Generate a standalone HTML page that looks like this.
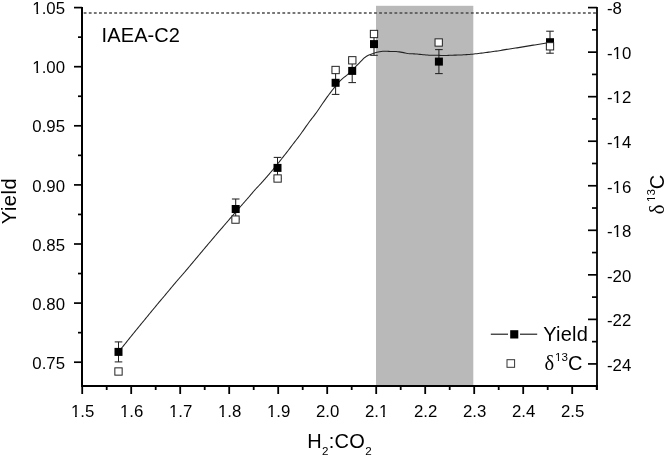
<!DOCTYPE html>
<html><head><meta charset="utf-8"><style>
html,body{margin:0;padding:0;background:#fff;}
svg{display:block;will-change:transform;}
text{font-family:"Liberation Sans",sans-serif;fill:#000;}
.t{font-size:16.8px;}
.L{font-size:20px;}
.s{font-size:11.6px;}
.g{font-family:"Liberation Serif",serif;font-size:20.5px;}
</style></head><body>
<svg width="667" height="457" viewBox="0 0 667 457">
<rect x="376" y="5.8" width="97.3" height="380.20" fill="#b9b9b9"/>
<line x1="83.7" y1="13.1" x2="596" y2="13.1" stroke="#4a4a4a" stroke-width="1.5" stroke-dasharray="2.8 2.294"/>
<path d="M118.50 351.90 L119.45 350.74 L120.40 349.58 L121.35 348.42 L122.30 347.26 L123.25 346.10 L124.20 344.93 L125.14 343.76 L126.07 342.59 L127.00 341.41 L127.93 340.23 L128.86 339.06 L129.79 337.88 L130.73 336.71 L131.68 335.55 L132.63 334.39 L133.58 333.23 L134.53 332.07 L135.48 330.91 L136.43 329.75 L137.39 328.59 L138.34 327.43 L139.29 326.27 L140.24 325.11 L141.19 323.95 L142.14 322.79 L143.09 321.63 L144.04 320.47 L144.99 319.31 L145.94 318.15 L146.89 316.99 L147.85 315.83 L148.80 314.67 L149.75 313.52 L150.71 312.36 L151.66 311.20 L152.62 310.04 L153.57 308.89 L154.53 307.73 L155.48 306.57 L156.44 305.42 L157.39 304.26 L158.35 303.11 L159.31 301.95 L160.27 300.80 L161.24 299.66 L162.22 298.52 L163.20 297.38 L164.16 296.24 L165.13 295.09 L166.09 293.93 L167.04 292.78 L168.00 291.62 L168.96 290.47 L169.92 289.32 L170.88 288.16 L171.84 287.01 L172.80 285.86 L173.77 284.71 L174.73 283.57 L175.71 282.42 L176.68 281.28 L177.66 280.15 L178.64 279.02 L179.63 277.89 L180.62 276.76 L181.61 275.63 L182.59 274.49 L183.57 273.36 L184.55 272.22 L185.52 271.08 L186.49 269.93 L187.46 268.79 L188.42 267.64 L189.39 266.49 L190.35 265.35 L191.32 264.20 L192.28 263.05 L193.25 261.90 L194.21 260.75 L195.17 259.60 L196.14 258.45 L197.10 257.30 L198.07 256.15 L199.03 255.00 L199.99 253.85 L200.96 252.70 L201.92 251.56 L202.89 250.41 L203.85 249.26 L204.82 248.11 L205.78 246.96 L206.75 245.81 L207.72 244.67 L208.68 243.52 L209.65 242.37 L210.62 241.23 L211.58 240.08 L212.55 238.94 L213.52 237.79 L214.49 236.65 L215.46 235.50 L216.43 234.36 L217.40 233.21 L218.37 232.07 L219.35 230.93 L220.34 229.81 L221.34 228.69 L222.32 227.56 L223.30 226.42 L224.27 225.28 L225.25 224.14 L226.22 223.00 L227.20 221.86 L228.18 220.72 L229.16 219.58 L230.13 218.45 L231.11 217.31 L232.09 216.18 L233.08 215.04 L234.06 213.91 L235.04 212.77 L236.03 211.64 L237.01 210.51 L238.00 209.38 L238.99 208.25 L239.97 207.12 L240.96 206.00 L241.96 204.87 L242.95 203.75 L243.94 202.62 L244.93 201.50 L245.92 200.37 L246.91 199.24 L247.90 198.11 L248.88 196.98 L249.85 195.84 L250.82 194.69 L251.79 193.54 L252.75 192.40 L253.73 191.26 L254.71 190.12 L255.72 189.01 L256.74 187.91 L257.78 186.83 L258.81 185.74 L259.83 184.65 L260.86 183.55 L261.87 182.44 L262.87 181.33 L263.87 180.21 L264.86 179.08 L265.85 177.95 L266.83 176.82 L267.82 175.69 L268.79 174.55 L269.77 173.41 L270.74 172.27 L271.71 171.12 L272.67 169.97 L273.62 168.81 L274.58 167.65 L275.52 166.49 L276.47 165.32 L277.41 164.15 L278.34 162.98 L279.28 161.81 L280.21 160.64 L281.14 159.46 L282.07 158.28 L283.00 157.10 L283.93 155.93 L284.85 154.75 L285.78 153.57 L286.70 152.38 L287.62 151.20 L288.54 150.01 L289.45 148.82 L290.36 147.62 L291.26 146.43 L292.17 145.23 L293.08 144.04 L293.99 142.85 L294.91 141.66 L295.83 140.48 L296.75 139.29 L297.67 138.11 L298.57 136.91 L299.47 135.71 L300.36 134.50 L301.24 133.29 L302.11 132.07 L302.97 130.84 L303.84 129.61 L304.70 128.38 L305.55 127.15 L306.41 125.92 L307.28 124.70 L308.15 123.48 L309.03 122.26 L309.92 121.06 L310.83 119.86 L311.74 118.67 L312.67 117.49 L313.59 116.31 L314.50 115.11 L315.40 113.91 L316.28 112.70 L317.16 111.48 L318.02 110.26 L318.88 109.03 L319.72 107.79 L320.56 106.55 L321.40 105.30 L322.24 104.06 L323.08 102.81 L323.93 101.58 L324.78 100.34 L325.65 99.12 L326.52 97.90 L327.40 96.68 L328.29 95.47 L329.18 94.27 L330.08 93.07 L330.99 91.88 L331.91 90.69 L332.83 89.51 L333.76 88.33 L334.69 87.16 L335.64 85.99 L336.60 84.84 L337.57 83.70 L338.56 82.57 L339.57 81.46 L340.61 80.38 L341.68 79.33 L342.79 78.32 L343.97 77.39 L345.17 76.50 L346.34 75.56 L347.49 74.59 L348.61 73.59 L349.71 72.57 L350.78 71.53 L351.84 70.47 L352.90 69.40 L353.95 68.33 L355.01 67.27 L356.07 66.21 L357.13 65.14 L358.19 64.08 L359.24 63.02 L360.30 61.95 L361.34 60.87 L362.38 59.79 L363.42 58.71 L364.53 57.71 L365.74 56.81 L367.01 56.02 L368.34 55.33 L369.71 54.71 L371.10 54.14 L372.51 53.63 L373.93 53.15 L375.36 52.71 L376.81 52.32 L378.27 51.98 L379.74 51.70 L381.23 51.49 L382.72 51.35 L384.22 51.29 L385.72 51.29 L387.22 51.32 L388.72 51.39 L390.22 51.45 L391.72 51.49 L393.22 51.51 L394.72 51.53 L396.22 51.59 L397.71 51.71 L399.20 51.88 L400.68 52.11 L402.16 52.36 L403.64 52.64 L405.11 52.94 L406.57 53.24 L408.05 53.51 L409.54 53.69 L411.04 53.79 L412.53 53.84 L414.03 53.89 L415.53 53.98 L417.03 54.10 L418.52 54.24 L420.01 54.37 L421.51 54.51 L423.00 54.66 L424.49 54.82 L425.98 54.97 L427.48 55.10 L428.98 55.20 L430.47 55.25 L431.97 55.29 L433.47 55.31 L434.97 55.31 L436.47 55.31 L437.97 55.33 L439.47 55.36 L440.97 55.44 L442.47 55.50 L443.97 55.52 L445.47 55.49 L446.97 55.44 L448.47 55.38 L449.97 55.31 L451.46 55.24 L452.96 55.18 L454.46 55.13 L455.96 55.11 L457.46 55.10 L458.96 55.07 L460.46 55.01 L461.96 54.93 L463.45 54.83 L464.95 54.73 L466.45 54.62 L467.94 54.52 L469.44 54.40 L470.93 54.28 L472.43 54.15 L473.92 54.00 L475.41 53.84 L476.90 53.67 L478.39 53.50 L479.88 53.32 L481.37 53.14 L482.86 52.96 L484.35 52.77 L485.84 52.57 L487.32 52.36 L488.80 52.14 L490.29 51.93 L491.78 51.73 L493.26 51.53 L494.75 51.33 L496.23 51.12 L497.72 50.90 L499.20 50.67 L500.68 50.41 L502.15 50.13 L503.63 49.86 L505.11 49.61 L506.59 49.38 L508.07 49.15 L509.56 48.94 L511.04 48.73 L512.53 48.52 L514.01 48.31 L515.50 48.10 L516.98 47.87 L518.46 47.63 L519.94 47.38 L521.42 47.13 L522.90 46.87 L524.37 46.61 L525.85 46.36 L527.33 46.11 L528.81 45.86 L530.29 45.62 L531.77 45.38 L533.25 45.14 L534.73 44.91 L536.22 44.68 L537.70 44.45 L539.18 44.22 L540.66 43.98 L542.14 43.73 L543.62 43.47 L545.09 43.21 L546.57 42.94 L548.04 42.66 L549.52 42.39 L550.00 42.30" fill="none" stroke="#222" stroke-width="1.05" stroke-linejoin="round"/>
<line x1="118.5" y1="341.9" x2="118.5" y2="361.9" stroke="#222" stroke-width="1.05"/>
<line x1="114.7" y1="341.9" x2="122.3" y2="341.9" stroke="#222" stroke-width="1.05"/>
<line x1="114.7" y1="361.9" x2="122.3" y2="361.9" stroke="#222" stroke-width="1.05"/>
<line x1="235.7" y1="199" x2="235.7" y2="219" stroke="#222" stroke-width="1.05"/>
<line x1="231.89999999999998" y1="199" x2="239.5" y2="199" stroke="#222" stroke-width="1.05"/>
<line x1="231.89999999999998" y1="219" x2="239.5" y2="219" stroke="#222" stroke-width="1.05"/>
<line x1="277.5" y1="157.4" x2="277.5" y2="178.4" stroke="#222" stroke-width="1.05"/>
<line x1="273.7" y1="157.4" x2="281.3" y2="157.4" stroke="#222" stroke-width="1.05"/>
<line x1="273.7" y1="178.4" x2="281.3" y2="178.4" stroke="#222" stroke-width="1.05"/>
<line x1="335.6" y1="71.2" x2="335.6" y2="94.39999999999999" stroke="#222" stroke-width="1.05"/>
<line x1="331.8" y1="71.2" x2="339.40000000000003" y2="71.2" stroke="#222" stroke-width="1.05"/>
<line x1="331.8" y1="94.39999999999999" x2="339.40000000000003" y2="94.39999999999999" stroke="#222" stroke-width="1.05"/>
<line x1="352.2" y1="59.2" x2="352.2" y2="82.60000000000001" stroke="#222" stroke-width="1.05"/>
<line x1="348.4" y1="59.2" x2="356.0" y2="59.2" stroke="#222" stroke-width="1.05"/>
<line x1="348.4" y1="82.60000000000001" x2="356.0" y2="82.60000000000001" stroke="#222" stroke-width="1.05"/>
<line x1="374" y1="32.900000000000006" x2="374" y2="55.3" stroke="#222" stroke-width="1.05"/>
<line x1="370.2" y1="32.900000000000006" x2="377.8" y2="32.900000000000006" stroke="#222" stroke-width="1.05"/>
<line x1="370.2" y1="55.3" x2="377.8" y2="55.3" stroke="#222" stroke-width="1.05"/>
<line x1="438.9" y1="49.6" x2="438.9" y2="73.6" stroke="#222" stroke-width="1.05"/>
<line x1="435.09999999999997" y1="49.6" x2="442.7" y2="49.6" stroke="#222" stroke-width="1.05"/>
<line x1="435.09999999999997" y1="73.6" x2="442.7" y2="73.6" stroke="#222" stroke-width="1.05"/>
<line x1="550" y1="31.200000000000003" x2="550" y2="53.2" stroke="#222" stroke-width="1.05"/>
<line x1="546.2" y1="31.200000000000003" x2="553.8" y2="31.200000000000003" stroke="#222" stroke-width="1.05"/>
<line x1="546.2" y1="53.2" x2="553.8" y2="53.2" stroke="#222" stroke-width="1.05"/>
<rect x="114.5" y="347.9" width="8" height="8" fill="#000"/>
<rect x="231.7" y="205" width="8" height="8" fill="#000"/>
<rect x="273.5" y="163.9" width="8" height="8" fill="#000"/>
<rect x="331.6" y="78.8" width="8" height="8" fill="#000"/>
<rect x="348.2" y="66.9" width="8" height="8" fill="#000"/>
<rect x="370" y="40.1" width="8" height="8" fill="#000"/>
<rect x="434.9" y="57.6" width="8" height="8" fill="#000"/>
<rect x="546" y="38.2" width="8" height="8" fill="#000"/>
<rect x="114.85" y="367.85" width="7.3" height="7.3" fill="#fff" stroke="#222" stroke-width="1.0"/>
<rect x="231.85" y="215.95" width="7.3" height="7.3" fill="#fff" stroke="#222" stroke-width="1.0"/>
<rect x="273.95000000000005" y="174.85" width="7.3" height="7.3" fill="#fff" stroke="#222" stroke-width="1.0"/>
<rect x="331.95000000000005" y="66.35" width="7.3" height="7.3" fill="#fff" stroke="#222" stroke-width="1.0"/>
<rect x="348.65000000000003" y="56.65" width="7.3" height="7.3" fill="#fff" stroke="#222" stroke-width="1.0"/>
<rect x="370.35" y="30.35" width="7.3" height="7.3" fill="#fff" stroke="#222" stroke-width="1.0"/>
<rect x="435.05" y="38.85" width="7.3" height="7.3" fill="#fff" stroke="#222" stroke-width="1.0"/>
<rect x="546.35" y="42.65" width="7.3" height="7.3" fill="#fff" stroke="#222" stroke-width="1.0"/>
<line x1="82" y1="7" x2="82" y2="387" stroke="#000" stroke-width="2"/>
<line x1="81" y1="386" x2="598" y2="386" stroke="#000" stroke-width="2"/>
<line x1="597" y1="7" x2="597" y2="390" stroke="#000" stroke-width="1.8"/>
<line x1="74" y1="7.60" x2="82" y2="7.60" stroke="#000" stroke-width="1.7"/>
<text x="65" y="14.20" text-anchor="end" class="t">1.05</text>
<line x1="74" y1="66.70" x2="82" y2="66.70" stroke="#000" stroke-width="1.7"/>
<text x="65" y="73.30" text-anchor="end" class="t">1.00</text>
<line x1="74" y1="125.80" x2="82" y2="125.80" stroke="#000" stroke-width="1.7"/>
<text x="65" y="132.40" text-anchor="end" class="t">0.95</text>
<line x1="74" y1="184.90" x2="82" y2="184.90" stroke="#000" stroke-width="1.7"/>
<text x="65" y="191.50" text-anchor="end" class="t">0.90</text>
<line x1="74" y1="244.00" x2="82" y2="244.00" stroke="#000" stroke-width="1.7"/>
<text x="65" y="250.60" text-anchor="end" class="t">0.85</text>
<line x1="74" y1="303.10" x2="82" y2="303.10" stroke="#000" stroke-width="1.7"/>
<text x="65" y="309.70" text-anchor="end" class="t">0.80</text>
<line x1="74" y1="362.20" x2="82" y2="362.20" stroke="#000" stroke-width="1.7"/>
<text x="65" y="368.80" text-anchor="end" class="t">0.75</text>
<line x1="78" y1="37.15" x2="82" y2="37.15" stroke="#000" stroke-width="1.7"/>
<line x1="78" y1="96.25" x2="82" y2="96.25" stroke="#000" stroke-width="1.7"/>
<line x1="78" y1="155.35" x2="82" y2="155.35" stroke="#000" stroke-width="1.7"/>
<line x1="78" y1="214.45" x2="82" y2="214.45" stroke="#000" stroke-width="1.7"/>
<line x1="78" y1="273.55" x2="82" y2="273.55" stroke="#000" stroke-width="1.7"/>
<line x1="78" y1="332.65" x2="82" y2="332.65" stroke="#000" stroke-width="1.7"/>
<line x1="588" y1="7.60" x2="597" y2="7.60" stroke="#000" stroke-width="1.7"/>
<text x="607" y="14.40" class="t">-8</text>
<line x1="588" y1="52.14" x2="597" y2="52.14" stroke="#000" stroke-width="1.7"/>
<text x="607" y="58.94" class="t">-10</text>
<line x1="588" y1="96.68" x2="597" y2="96.68" stroke="#000" stroke-width="1.7"/>
<text x="607" y="103.48" class="t">-12</text>
<line x1="588" y1="141.22" x2="597" y2="141.22" stroke="#000" stroke-width="1.7"/>
<text x="607" y="148.02" class="t">-14</text>
<line x1="588" y1="185.76" x2="597" y2="185.76" stroke="#000" stroke-width="1.7"/>
<text x="607" y="192.56" class="t">-16</text>
<line x1="588" y1="230.30" x2="597" y2="230.30" stroke="#000" stroke-width="1.7"/>
<text x="607" y="237.10" class="t">-18</text>
<line x1="588" y1="274.84" x2="597" y2="274.84" stroke="#000" stroke-width="1.7"/>
<text x="607" y="281.64" class="t">-20</text>
<line x1="588" y1="319.38" x2="597" y2="319.38" stroke="#000" stroke-width="1.7"/>
<text x="607" y="326.18" class="t">-22</text>
<line x1="588" y1="363.92" x2="597" y2="363.92" stroke="#000" stroke-width="1.7"/>
<text x="607" y="370.72" class="t">-24</text>
<line x1="592" y1="29.87" x2="597" y2="29.87" stroke="#000" stroke-width="1.7"/>
<line x1="592" y1="74.41" x2="597" y2="74.41" stroke="#000" stroke-width="1.7"/>
<line x1="592" y1="118.95" x2="597" y2="118.95" stroke="#000" stroke-width="1.7"/>
<line x1="592" y1="163.49" x2="597" y2="163.49" stroke="#000" stroke-width="1.7"/>
<line x1="592" y1="208.03" x2="597" y2="208.03" stroke="#000" stroke-width="1.7"/>
<line x1="592" y1="252.57" x2="597" y2="252.57" stroke="#000" stroke-width="1.7"/>
<line x1="592" y1="297.11" x2="597" y2="297.11" stroke="#000" stroke-width="1.7"/>
<line x1="592" y1="341.65" x2="597" y2="341.65" stroke="#000" stroke-width="1.7"/>
<line x1="82.20" y1="386" x2="82.20" y2="394" stroke="#000" stroke-width="1.8"/>
<text x="82.60" y="416.8" text-anchor="middle" class="t">1.5</text>
<line x1="131.20" y1="386" x2="131.20" y2="394" stroke="#000" stroke-width="1.8"/>
<text x="131.60" y="416.8" text-anchor="middle" class="t">1.6</text>
<line x1="180.20" y1="386" x2="180.20" y2="394" stroke="#000" stroke-width="1.8"/>
<text x="180.60" y="416.8" text-anchor="middle" class="t">1.7</text>
<line x1="229.20" y1="386" x2="229.20" y2="394" stroke="#000" stroke-width="1.8"/>
<text x="229.60" y="416.8" text-anchor="middle" class="t">1.8</text>
<line x1="278.20" y1="386" x2="278.20" y2="394" stroke="#000" stroke-width="1.8"/>
<text x="278.60" y="416.8" text-anchor="middle" class="t">1.9</text>
<line x1="327.20" y1="386" x2="327.20" y2="394" stroke="#000" stroke-width="1.8"/>
<text x="327.60" y="416.8" text-anchor="middle" class="t">2.0</text>
<line x1="376.20" y1="386" x2="376.20" y2="394" stroke="#000" stroke-width="1.8"/>
<text x="376.60" y="416.8" text-anchor="middle" class="t">2.1</text>
<line x1="425.20" y1="386" x2="425.20" y2="394" stroke="#000" stroke-width="1.8"/>
<text x="425.60" y="416.8" text-anchor="middle" class="t">2.2</text>
<line x1="474.20" y1="386" x2="474.20" y2="394" stroke="#000" stroke-width="1.8"/>
<text x="474.60" y="416.8" text-anchor="middle" class="t">2.3</text>
<line x1="523.20" y1="386" x2="523.20" y2="394" stroke="#000" stroke-width="1.8"/>
<text x="523.60" y="416.8" text-anchor="middle" class="t">2.4</text>
<line x1="572.20" y1="386" x2="572.20" y2="394" stroke="#000" stroke-width="1.8"/>
<text x="572.60" y="416.8" text-anchor="middle" class="t">2.5</text>
<line x1="106.70" y1="386" x2="106.70" y2="390" stroke="#000" stroke-width="1.8"/>
<line x1="155.70" y1="386" x2="155.70" y2="390" stroke="#000" stroke-width="1.8"/>
<line x1="204.70" y1="386" x2="204.70" y2="390" stroke="#000" stroke-width="1.8"/>
<line x1="253.70" y1="386" x2="253.70" y2="390" stroke="#000" stroke-width="1.8"/>
<line x1="302.70" y1="386" x2="302.70" y2="390" stroke="#000" stroke-width="1.8"/>
<line x1="351.70" y1="386" x2="351.70" y2="390" stroke="#000" stroke-width="1.8"/>
<line x1="400.70" y1="386" x2="400.70" y2="390" stroke="#000" stroke-width="1.8"/>
<line x1="449.70" y1="386" x2="449.70" y2="390" stroke="#000" stroke-width="1.8"/>
<line x1="498.70" y1="386" x2="498.70" y2="390" stroke="#000" stroke-width="1.8"/>
<line x1="547.70" y1="386" x2="547.70" y2="390" stroke="#000" stroke-width="1.8"/>
<line x1="596.70" y1="386" x2="596.70" y2="390" stroke="#000" stroke-width="1.8"/>
<text x="101.6" y="42.2" class="L" letter-spacing="0.1">IAEA-C2</text>
<text transform="translate(16.2,224.2) rotate(-90)" class="L" letter-spacing="0.5">Yield</text>
<text transform="translate(664.4,214.3) rotate(-90)" class="L"><tspan class="g">&#948;</tspan><tspan class="s" dy="-9.4" dx="2.7">13</tspan><tspan dy="9.4" dx="-0.2">C</tspan></text>
<text x="307.2" y="447.6" class="L" letter-spacing="0.3">H<tspan class="s" dy="7">2</tspan><tspan dy="-7">:CO</tspan><tspan class="s" dy="7">2</tspan></text>
<line x1="490.8" y1="334.2" x2="508" y2="334.2" stroke="#111" stroke-width="1.1"/>
<line x1="520" y1="334.2" x2="537.2" y2="334.2" stroke="#111" stroke-width="1.1"/>
<rect x="510.2" y="330.2" width="8.1" height="8.3" fill="#000"/>
<text x="543.2" y="341.1" class="L" letter-spacing="0.25">Yield</text>
<rect x="507.0" y="359.7" width="7.6" height="7.6" fill="#fff" stroke="#333" stroke-width="1.0"/>
<text x="544.6" y="370" class="L"><tspan class="g">&#948;</tspan><tspan class="s" dy="-9.4" dx="0.7">13</tspan><tspan dy="9.4" dx="0">C</tspan></text>
<rect x="32.49" y="12.00" width="3.96" height="3.2" fill="#fff"/><rect x="38.20" y="12.00" width="3.40" height="3.2" fill="#fff"/>
<rect x="32.49" y="71.10" width="3.96" height="3.2" fill="#fff"/><rect x="38.20" y="71.10" width="3.40" height="3.2" fill="#fff"/>
<rect x="612.74" y="56.74" width="3.96" height="3.2" fill="#fff"/><rect x="618.45" y="56.74" width="3.40" height="3.2" fill="#fff"/>
<rect x="612.74" y="101.28" width="3.96" height="3.2" fill="#fff"/><rect x="618.45" y="101.28" width="3.40" height="3.2" fill="#fff"/>
<rect x="612.74" y="145.82" width="3.96" height="3.2" fill="#fff"/><rect x="618.45" y="145.82" width="3.40" height="3.2" fill="#fff"/>
<rect x="612.74" y="190.36" width="3.96" height="3.2" fill="#fff"/><rect x="618.45" y="190.36" width="3.40" height="3.2" fill="#fff"/>
<rect x="612.74" y="234.90" width="3.96" height="3.2" fill="#fff"/><rect x="618.45" y="234.90" width="3.40" height="3.2" fill="#fff"/>
<rect x="71.09" y="414.60" width="3.96" height="3.2" fill="#fff"/><rect x="76.80" y="414.60" width="3.40" height="3.2" fill="#fff"/>
<rect x="120.09" y="414.60" width="3.96" height="3.2" fill="#fff"/><rect x="125.80" y="414.60" width="3.40" height="3.2" fill="#fff"/>
<rect x="169.09" y="414.60" width="3.96" height="3.2" fill="#fff"/><rect x="174.80" y="414.60" width="3.40" height="3.2" fill="#fff"/>
<rect x="218.09" y="414.60" width="3.96" height="3.2" fill="#fff"/><rect x="223.80" y="414.60" width="3.40" height="3.2" fill="#fff"/>
<rect x="267.09" y="414.60" width="3.96" height="3.2" fill="#fff"/><rect x="272.80" y="414.60" width="3.40" height="3.2" fill="#fff"/>
<rect x="379.08" y="414.60" width="3.96" height="3.2" fill="#fff"/><rect x="384.79" y="414.60" width="3.40" height="3.2" fill="#fff"/>
<g transform="translate(664.4,214.3) rotate(-90)"><rect x="12.49" y="-11.60" width="2.74" height="3.2" fill="#fff"/><rect x="16.43" y="-11.60" width="2.34" height="3.2" fill="#fff"/></g>
<rect x="555.09" y="358.40" width="2.74" height="3.2" fill="#fff"/><rect x="559.03" y="358.40" width="2.34" height="3.2" fill="#fff"/>
</svg>
</body></html>
